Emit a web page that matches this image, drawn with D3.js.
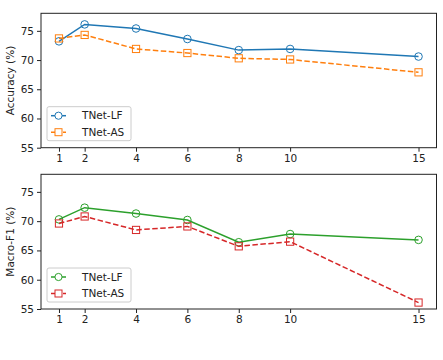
<!DOCTYPE html>
<html>
<head>
<meta charset="utf-8">
<script src="https://cdn.jsdelivr.net/npm/d3@7"></script>
<style>
  body { margin: 0; background: #fff; }
  svg text { font-family: "DejaVu Sans", sans-serif; fill: #222; }
</style>
</head>
<body>
<div id="chart"></div>
<script>
// layer counts on the x axis
const steps = [1, 2, 4, 6, 8, 10, 15];
const yTicks = [55, 60, 65, 70, 75];

const accLF = [73.2, 76.1, 75.4, 73.6, 71.7, 71.9, 70.6];
const accAS = [73.7, 74.3, 71.9, 71.2, 70.3, 70.1, 67.9];
const f1LF = [70.3, 72.3, 71.3, 70.2, 66.4, 67.8, 66.8];
const f1AS = [69.6, 70.8, 68.5, 69.1, 65.7, 66.5, 56.1];

const svg = d3.select('#chart')
    .append('svg')
    .attr('width', 443)
    .attr('height', 360);

const x = d3.scaleLinear()
    .domain([0.3, 15.7])
    .range([41, 436.5]);

const drawPanel = (top, bottom, label, series) => {
    const y = d3.scaleLinear()
        .domain([55, 78])
        .range([bottom, top]);

    const g = svg.append('g');

    // axes
    g.append('g')
        .attr('transform', `translate(0, ${bottom})`)
        .call(d3.axisBottom(x).tickValues(steps).tickSize(4).tickPadding(3))
        .call(a => a.select('.domain').remove());
    g.append('g')
        .attr('transform', `translate(41, 0)`)
        .call(d3.axisLeft(y).tickValues(yTicks).tickSize(4).tickPadding(3))
        .call(a => a.select('.domain').remove());
    g.selectAll('.tick text').attr('font-size', 10.5).attr('fill', '#222');
    g.selectAll('.tick line').attr('stroke', '#222');

    g.append('rect')
        .attr('x', 41).attr('y', top)
        .attr('width', 436.5 - 41).attr('height', bottom - top)
        .attr('fill', 'none').attr('stroke', '#222').attr('stroke-width', 1);

    g.append('text')
        .attr('transform', `translate(10, ${(top + bottom) / 2}) rotate(-90)`)
        .attr('text-anchor', 'middle')
        .attr('dy', '0.35em')
        .attr('font-size', 10.5)
        .text(label);

    const line = d3.line()
        .x((d, i) => x(steps[i]))
        .y(d => y(d));

    series.forEach(s => {
        g.append('path')
            .datum(s.values)
            .attr('d', line)
            .attr('fill', 'none')
            .attr('stroke', s.color)
            .attr('stroke-width', 1.5)
            .attr('stroke-dasharray', s.dashed ? '5.5,2.5' : null);

        const pts = g.selectAll(null)
            .data(s.values)
            .enter();
        if (s.marker === 'circle') {
            pts.append('circle')
                .attr('cx', (d, i) => x(steps[i]))
                .attr('cy', d => y(d))
                .attr('r', 3.8)
                .attr('fill', 'none')
                .attr('stroke', s.color)
                .attr('stroke-width', 1);
        } else {
            pts.append('rect')
                .attr('x', (d, i) => x(steps[i]) - 3.6)
                .attr('y', d => y(d) - 3.6)
                .attr('width', 7.2).attr('height', 7.2)
                .attr('fill', 'none')
                .attr('stroke', s.color)
                .attr('stroke-width', 1);
        }
    });

    // legend
    const lg = g.append('g').attr('transform', `translate(47, ${bottom - 41})`);
    lg.append('rect')
        .attr('width', 84).attr('height', 34).attr('rx', 2)
        .attr('fill', '#fff').attr('fill-opacity', 0.8)
        .attr('stroke', '#ccc').attr('stroke-width', 1);
    series.forEach((s, i) => {
        const ly = 9 + i * 16.5;
        lg.append('line')
            .attr('x1', 4).attr('x2', 19).attr('y1', ly).attr('y2', ly)
            .attr('stroke', s.color).attr('stroke-width', 1.5)
            .attr('stroke-dasharray', s.dashed ? '4,2' : null);
        if (s.marker === 'circle') {
            lg.append('circle').attr('cx', 11.5).attr('cy', ly).attr('r', 3.6)
                .attr('fill', '#fff').attr('stroke', s.color);
        } else {
            lg.append('rect').attr('x', 8).attr('y', ly - 3.5)
                .attr('width', 7).attr('height', 7)
                .attr('fill', '#fff').attr('stroke', s.color);
        }
        lg.append('text')
            .attr('x', 35).attr('y', ly)
            .attr('dy', '0.35em')
            .attr('font-size', 10.5)
            .text(s.name);
    });
};

drawPanel(13.3, 147.7, 'Accuracy (%)', [
    { name: 'TNet-LF', values: accLF, color: '#1f77b4', marker: 'circle', dashed: false },
    { name: 'TNet-AS', values: accAS, color: '#ff7f0e', marker: 'square', dashed: true }
]);
drawPanel(174.3, 309, 'Macro-F1 (%)', [
    { name: 'TNet-LF', values: f1LF, color: '#2ca02c', marker: 'circle', dashed: false },
    { name: 'TNet-AS', values: f1AS, color: '#d62728', marker: 'square', dashed: true }
]);
</script>
</body>
</html>
